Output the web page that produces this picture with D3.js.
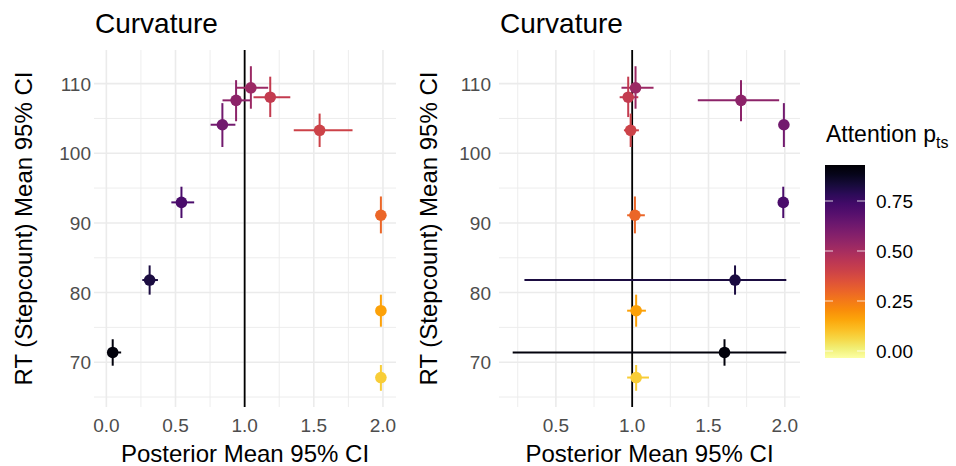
<!DOCTYPE html>
<html>
<head>
<meta charset="utf-8">
<script src="https://cdn.jsdelivr.net/npm/d3@7"></script>
<style>
    body { margin: 0; background: #fff; }
    svg { display: block; font-family: "Liberation Sans", Arial, sans-serif; }
</style>
</head>
<body>
<div id="chart"></div>
<script>
// RT (stepcount) per group, shared by both panels
const rtMean = [71.4, 81.8, 92.95, 104.1, 107.6, 109.4, 108.05, 103.3, 91.1, 77.4, 67.8];
const rtLo   = [69.5, 79.7, 90.7, 100.9, 104.6, 106.4, 105.2, 100.9, 88.5, 75.1, 65.9];
const rtHi   = [73.3, 83.9, 95.2, 107.2, 110.5, 112.5, 111.0, 105.7, 93.8, 79.7, 69.6];
const attention = [0.91, 0.824, 0.718, 0.621, 0.563, 0.525, 0.428, 0.399, 0.293, 0.168, 0.08];

// left panel curvature
const curvMean = [0.046, 0.313, 0.543, 0.839, 0.938, 1.045, 1.185, 1.542, 1.985, 1.985, 1.985];
const curvLo   = [0.01, 0.26, 0.47, 0.754, 0.84, 0.94, 1.064, 1.355, 1.972, 1.975, 1.975];
const curvHi   = [0.107, 0.373, 0.635, 0.933, 1.04, 1.17, 1.33, 1.78, 1.995, 1.995, 1.995];

// right panel curvature
const curv2Mean = [1.605, 1.674, 1.99, 1.994, 1.713, 1.022, 0.974, 0.99, 1.018, 1.026, 1.026];
const curv2Lo   = [0.217, 0.294, 1.978, 1.98, 1.43, 0.93, 0.918, 0.946, 0.967, 0.967, 0.967];
const curv2Hi   = [2.01, 2.01, 2.0, 2.005, 1.963, 1.14, 1.04, 1.044, 1.083, 1.09, 1.11];

const xTicksLeft = [0, 0.5, 1, 1.5, 2];
const xTicksRight = [0.5, 1, 1.5, 2];
const xMinorTicks = [0.25, 0.75, 1.25, 1.75];
const yTicks = [70, 80, 90, 100, 110];
const yMinorTicks = [65, 75, 85, 95, 105];
const legendTicks = [0, 0.25, 0.5, 0.75];
const legendLimits = [-0.035, 0.93];

const w = 956;
const h = 466;
const plotTop = 50;
const plotBottom = 407;

const svg = d3.select("#chart")
    .append("svg")
    .attr("width", w)
    .attr("height", h);

const color = d3.scaleSequential(d3.interpolateInferno)
    .domain([legendLimits[1], legendLimits[0]]);

const expand = (lo, hi) => {
    const pad = (d3.max(hi) - d3.min(lo)) * 0.05;
    return [d3.min(lo) - pad, d3.max(hi) + pad];
};

const yScale = d3.scaleLinear()
    .domain(expand(rtLo, rtHi))
    .range([plotBottom, plotTop]);

const drawPanel = (left, right, xMean, xLo, xHi, xTicks, labelX, titleX) => {
    const xScale = d3.scaleLinear()
        .domain(expand(xLo, xHi))
        .range([left, right]);
    const g = svg.append("g");
    const rows = d3.range(rtMean.length);

    // grid
    g.selectAll(".ymin").data(yMinorTicks).enter().append("line")
        .attr("x1", left).attr("x2", right)
        .attr("y1", d => yScale(d)).attr("y2", d => yScale(d))
        .attr("stroke", "#ebebeb").attr("stroke-width", 0.9);
    g.selectAll(".xmin").data(xMinorTicks).enter().append("line")
        .attr("x1", d => xScale(d)).attr("x2", d => xScale(d))
        .attr("y1", plotTop).attr("y2", plotBottom)
        .attr("stroke", "#ebebeb").attr("stroke-width", 0.9);
    g.selectAll(".ymaj").data(yTicks).enter().append("line")
        .attr("x1", left).attr("x2", right)
        .attr("y1", d => yScale(d)).attr("y2", d => yScale(d))
        .attr("stroke", "#ebebeb").attr("stroke-width", 1.6);
    g.selectAll(".xmaj").data(xTicks).enter().append("line")
        .attr("x1", d => xScale(d)).attr("x2", d => xScale(d))
        .attr("y1", plotTop).attr("y2", plotBottom)
        .attr("stroke", "#ebebeb").attr("stroke-width", 1.6);

    // reference line at 1
    g.append("line")
        .attr("x1", xScale(1)).attr("x2", xScale(1))
        .attr("y1", plotTop).attr("y2", plotBottom)
        .attr("stroke", "black").attr("stroke-width", 1.8);

    // error bars
    g.selectAll(".hbar").data(rows).enter().append("line")
        .attr("x1", i => xScale(xLo[i])).attr("x2", i => xScale(xHi[i]))
        .attr("y1", i => yScale(rtMean[i])).attr("y2", i => yScale(rtMean[i]))
        .attr("stroke", i => color(attention[i])).attr("stroke-width", 2);
    g.selectAll(".vbar").data(rows).enter().append("line")
        .attr("x1", i => xScale(xMean[i])).attr("x2", i => xScale(xMean[i]))
        .attr("y1", i => yScale(rtLo[i])).attr("y2", i => yScale(rtHi[i]))
        .attr("stroke", i => color(attention[i])).attr("stroke-width", 2);

    g.selectAll("circle").data(rows).enter().append("circle")
        .attr("cx", i => xScale(xMean[i]))
        .attr("cy", i => yScale(rtMean[i]))
        .attr("r", 5.8)
        .attr("fill", i => color(attention[i]));

    // tick labels
    g.selectAll(".xlab").data(xTicks).enter().append("text")
        .attr("x", d => xScale(d)).attr("y", 432)
        .attr("text-anchor", "middle")
        .style("font-size", "19px").style("fill", "#4d4d4d")
        .text(d3.format(".1f"));
    g.selectAll(".ylab").data(yTicks).enter().append("text")
        .attr("x", labelX).attr("y", d => yScale(d) + 7)
        .attr("text-anchor", "end")
        .style("font-size", "19px").style("fill", "#4d4d4d")
        .text(d => d);

    // titles
    g.append("text")
        .attr("x", left + 1).attr("y", 33)
        .style("font-size", "28px").style("fill", "black")
        .text("Curvature");
    g.append("text")
        .attr("x", (left + right) / 2).attr("y", 462)
        .attr("text-anchor", "middle")
        .style("font-size", "24px").style("fill", "black")
        .text("Posterior Mean 95% CI");
    g.append("text")
        .attr("transform", `translate(${titleX}, ${(plotTop + plotBottom) / 2}) rotate(-90)`)
        .attr("text-anchor", "middle")
        .style("font-size", "24px").style("fill", "black")
        .text("RT (Stepcount) Mean 95% CI");
};

drawPanel(94, 396, curvMean, curvLo, curvHi, xTicksLeft, 91, 32);
drawPanel(499, 800, curv2Mean, curv2Lo, curv2Hi, xTicksRight, 491, 436.5);

// colour legend as a gradient built from the same colour scale
const legendY = d3.scaleLinear()
    .domain(legendLimits)
    .range([358, 165]);
const barX = 825;
const barW = 40;
const legend = svg.append("g");

const grad = svg.append("defs").append("linearGradient")
    .attr("id", "att-grad")
    .attr("x1", 0).attr("y1", 1).attr("x2", 0).attr("y2", 0);
grad.selectAll("stop").data(d3.range(0, 21)).enter().append("stop")
    .attr("offset", i => i / 20)
    .attr("stop-color", i => color(legendLimits[0] + (legendLimits[1] - legendLimits[0]) * i / 20));

legend.append("rect")
    .attr("x", barX).attr("width", barW)
    .attr("y", legendY(legendLimits[1]))
    .attr("height", legendY(legendLimits[0]) - legendY(legendLimits[1]))
    .attr("fill", "url(#att-grad)");

legend.selectAll(".tl").data(legendTicks).enter().append("line")
    .attr("x1", barX).attr("x2", barX + 8)
    .attr("y1", d => legendY(d)).attr("y2", d => legendY(d))
    .attr("stroke", "white").attr("stroke-opacity", 0.8).attr("stroke-width", 1);
legend.selectAll(".tr").data(legendTicks).enter().append("line")
    .attr("x1", barX + barW - 8).attr("x2", barX + barW)
    .attr("y1", d => legendY(d)).attr("y2", d => legendY(d))
    .attr("stroke", "white").attr("stroke-opacity", 0.8).attr("stroke-width", 1);

legend.selectAll(".ll").data(legendTicks).enter().append("text")
    .attr("x", 876).attr("y", d => legendY(d) + 7)
    .style("font-size", "19px").style("fill", "black")
    .text(d3.format(".2f"));

const lt = legend.append("text")
    .attr("x", 826).attr("y", 142)
    .style("font-size", "23px").style("fill", "black");
lt.append("tspan").text("Attention p");
lt.append("tspan").attr("dy", 6).style("font-size", "16px").text("ts");
</script>
</body>
</html>
